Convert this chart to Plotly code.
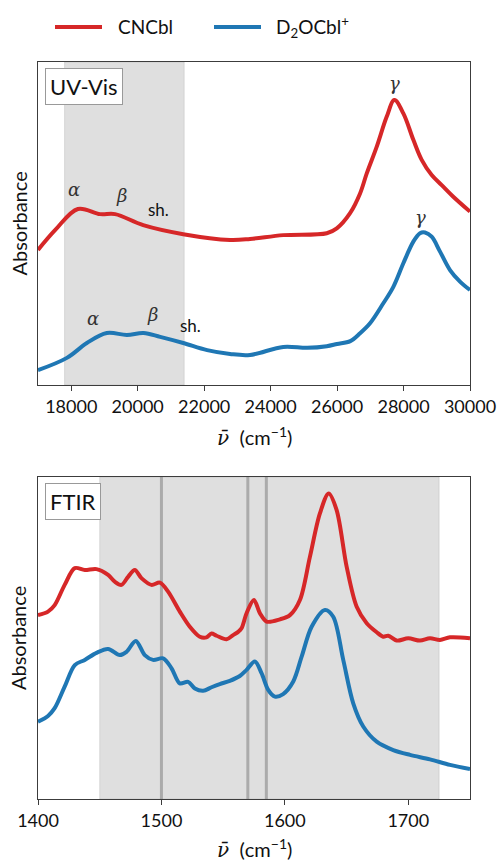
import plotly.graph_objects as go
from plotly.subplots import make_subplots

# ---- UV-Vis spectra (wavenumber in cm^-1, offset absorbance) ----
uv_cncbl_x = [17000, 17520, 18200, 18870, 19320, 20165, 21370, 22780, 23380,
              24380, 25690, 25991, 26391, 26692, 26893, 27194, 27495, 27724,
              27994, 28295, 28546, 28847, 29148, 29497, 30000]
uv_cncbl_y = [0.418, 0.480, 0.545, 0.529, 0.529, 0.495, 0.467, 0.449, 0.452,
              0.464, 0.470, 0.485, 0.532, 0.593, 0.655, 0.738, 0.831, 0.882,
              0.841, 0.759, 0.697, 0.650, 0.619, 0.583, 0.537]

uv_d2ocbl_x = [17000, 17870, 18470, 19070, 19675, 20175, 20677, 21370, 22090,
               22780, 23380, 24380, 25100, 25690, 26000, 26398, 26691, 26992,
               27392, 27693, 27994, 28295, 28496, 28647, 28847, 29098, 29398,
               29699, 30000]
uv_d2ocbl_y = [0.046, 0.084, 0.130, 0.161, 0.155, 0.161, 0.149, 0.130, 0.108,
               0.096, 0.093, 0.118, 0.115, 0.120, 0.127, 0.136, 0.160, 0.191,
               0.253, 0.304, 0.377, 0.444, 0.470, 0.472, 0.459, 0.413, 0.356,
               0.320, 0.294]

# ---- FTIR spectra ----
ir_cncbl_x = [1400, 1408.1, 1413.5, 1421.6, 1429.8, 1437.9, 1447.4, 1456.8,
              1462.2, 1467.6, 1473.0, 1478.4, 1483.8, 1491.9, 1498.7, 1505.4,
              1514.9, 1523.0, 1531.1, 1536.5, 1540.6, 1544.7, 1552.8, 1558.1,
              1562.2, 1564.9, 1569.0, 1574.9, 1579.8, 1585.2, 1596.0, 1604.1,
              1612.2, 1620.3, 1628.4, 1635.5, 1641.9, 1650.1, 1658.2, 1666.3,
              1674.4, 1679.7, 1683.8, 1690.6, 1700.0, 1709.5, 1717.6, 1725.7,
              1733.8, 1750]
ir_cncbl_y = [0.571, 0.582, 0.602, 0.665, 0.717, 0.711, 0.714, 0.696,
              0.675, 0.665, 0.690, 0.711, 0.686, 0.665, 0.672, 0.644,
              0.582, 0.535, 0.504, 0.502, 0.514, 0.507, 0.496, 0.509,
              0.519, 0.530, 0.577, 0.618, 0.577, 0.551, 0.558, 0.571,
              0.618, 0.752, 0.887, 0.949, 0.898, 0.721, 0.597, 0.546,
              0.518, 0.504, 0.507, 0.492, 0.499, 0.492, 0.499, 0.494,
              0.502, 0.499]

ir_d2ocbl_x = [1400, 1408.1, 1413.5, 1421.6, 1429.8, 1437.9, 1447.4, 1456.8,
               1466.2, 1471.7, 1479.2, 1486.5, 1493.2, 1501.4, 1508.2, 1514.9,
               1521.6, 1527.1, 1533.8, 1540.6, 1547.3, 1555.4, 1563.5, 1569.0,
               1575.7, 1581.1, 1586.5, 1591.9, 1598.6, 1606.8, 1613.6, 1621.7,
               1632.5, 1639.2, 1647.3, 1655.4, 1663.5, 1674.4, 1687.8, 1701.4,
               1717.6, 1733.8, 1750]
ir_d2ocbl_y = [0.240, 0.258, 0.282, 0.349, 0.416, 0.432, 0.454, 0.466,
               0.447, 0.457, 0.491, 0.447, 0.432, 0.437, 0.406, 0.359,
               0.364, 0.343, 0.336, 0.347, 0.357, 0.367, 0.382, 0.401,
               0.427, 0.391, 0.339, 0.318, 0.326, 0.365, 0.442, 0.535,
               0.587, 0.566, 0.432, 0.297, 0.225, 0.178, 0.152, 0.137,
               0.123, 0.106, 0.093]

# Highlighted regions and marker lines
uv_band = [17800, 21400]
ir_band = [1450, 1725]
ir_lines = [1500, 1570, 1585]

# Peak labels (text, wavenumber, height)
uv_labels = [("α", 18090, 0.604), ("β", 19504, 0.588), ("sh.", 20617, 0.542),
             ("γ", 27714, 0.935),
             ("α", 18662, 0.207), ("β", 20436, 0.217), ("sh.", 21579, 0.183),
             ("γ", 28496, 0.520)]

RED = "#d62728"
BLUE = "#1f77b4"
FONT = "Lato"
AXC = "#3c3c3c"

fig = make_subplots(rows=2, cols=1, vertical_spacing=0.0)


def spectrum(x, y, color, name, smooth):
    return go.Scatter(x=x, y=y, mode="lines", name=name, showlegend=False,
                      line=dict(color=color, width=4, shape="spline", smoothing=smooth))


fig.add_trace(spectrum(uv_cncbl_x, uv_cncbl_y, RED, "CNCbl", 1.0), row=1, col=1)
fig.add_trace(spectrum(uv_d2ocbl_x, uv_d2ocbl_y, BLUE, "D2OCbl+", 1.0), row=1, col=1)
fig.add_trace(spectrum(ir_cncbl_x, ir_cncbl_y, RED, "CNCbl", 0.9), row=2, col=1)
fig.add_trace(spectrum(ir_d2ocbl_x, ir_d2ocbl_y, BLUE, "D2OCbl+", 0.9), row=2, col=1)

H = 862.0
top_dom = [1 - 385 / H, 1 - 62 / H]
bot_dom = [1 - 799 / H, 1 - 477 / H]

axis_common = dict(showgrid=False, zeroline=False, showline=True, linecolor=AXC,
                   linewidth=1, mirror=True)
fig.update_xaxes(**axis_common, ticks="outside", ticklen=5, tickcolor=AXC,
                 tickformat="d",
                 tickfont=dict(family=FONT, size=18, color="#111"))
fig.update_yaxes(**axis_common, showticklabels=False, ticks="")

fig.update_layout(
    xaxis=dict(range=[17000, 30000],
               tickvals=[18000, 20000, 22000, 24000, 26000, 28000, 30000],
               domain=[0, 1]),
    yaxis=dict(range=[0, 1], domain=top_dom),
    xaxis2=dict(range=[1400, 1750], tickvals=[1400, 1500, 1600, 1700], domain=[0, 1]),
    yaxis2=dict(range=[0, 1], domain=bot_dom),
)

shapes = []
# shaded spectral windows
shapes.append(dict(type="rect", xref="x", yref="y domain", x0=uv_band[0], x1=uv_band[1],
                   y0=0, y1=1, fillcolor="rgba(128,128,128,0.25)",
                   line=dict(color="rgba(128,128,128,0.2)", width=1), layer="below"))
shapes.append(dict(type="rect", xref="x2", yref="y2 domain", x0=ir_band[0], x1=ir_band[1],
                   y0=0, y1=1, fillcolor="rgba(128,128,128,0.25)",
                   line=dict(color="rgba(128,128,128,0.2)", width=1), layer="below"))
for xv in ir_lines:
    shapes.append(dict(type="line", xref="x2", yref="y2 domain", x0=xv, x1=xv, y0=0, y1=1,
                       line=dict(color="rgba(128,128,128,0.55)", width=3), layer="below"))

# legend swatches
for x0, col in [((55 - 38) / 432, RED), ((214 - 38) / 432, BLUE)]:
    shapes.append(dict(type="line", xref="paper", yref="paper",
                       x0=x0, x1=x0 + 47 / 432, y0=1 - 27 / H, y1=1 - 27 / H,
                       line=dict(color=col, width=4)))

annotations = []
# legend text
annotations.append(dict(text="CNCbl", xref="paper", yref="paper", x=(116 - 38) / 432,
                        y=1 - 27 / H, xanchor="left", yanchor="middle", showarrow=False,
                        font=dict(family=FONT, size=19, color="#111")))
annotations.append(dict(text="D<sub>2</sub>OCbl<sup>+</sup>", xref="paper", yref="paper",
                        x=(274 - 38) / 432, y=1 - 27 / H, xanchor="left", yanchor="middle",
                        showarrow=False, font=dict(family=FONT, size=19, color="#111")))

# panel tags
for txt, ytop in [("UV-Vis", 68), ("FTIR", 483)]:
    annotations.append(dict(text=txt, xref="paper", yref="paper", x=(45 - 38) / 432,
                            y=1 - ytop / H, xanchor="left", yanchor="top", showarrow=False,
                            font=dict(family=FONT, size=22, color="#111"),
                            bgcolor="white", bordercolor="#999", borderwidth=1, borderpad=4))

# axis titles
for yc in [(62 + 385) / 2, (477 + 799) / 2]:
    annotations.append(dict(text="Absorbance", xref="paper", yref="paper",
                            x=(18 - 38) / 432, y=1 - yc / H, xanchor="center",
                            yanchor="middle", textangle=-90, showarrow=False,
                            font=dict(family=FONT, size=20, color="#111")))
xtitle = ('<span style="font-family:DejaVu Serif"><i>ν̄</i></span>'
          '  (cm<sup>−1</sup>)')
for yc in [436, 848]:
    annotations.append(dict(text=xtitle, xref="paper", yref="paper", x=(254 - 38) / 432,
                            y=1 - yc / H, xanchor="center", yanchor="middle",
                            showarrow=False, font=dict(family=FONT, size=20, color="#111")))

# peak labels
for txt, xv, yv in uv_labels:
    if txt == "sh.":
        f = dict(family=FONT, size=17, color="#111")
        t = txt
    else:
        f = dict(family="DejaVu Serif", size=18, color="#333")
        t = "<i>" + txt + "</i>"
    annotations.append(dict(text=t, x=xv, y=yv, xref="x", yref="y", showarrow=False,
                            xanchor="center", yanchor="middle", font=f))

fig.update_layout(
    width=499, height=862,
    margin=dict(l=38, r=29, t=0, b=0),
    plot_bgcolor="white", paper_bgcolor="white",
    shapes=shapes, annotations=annotations,
    showlegend=False,
)

fig.write_html("out.html")
